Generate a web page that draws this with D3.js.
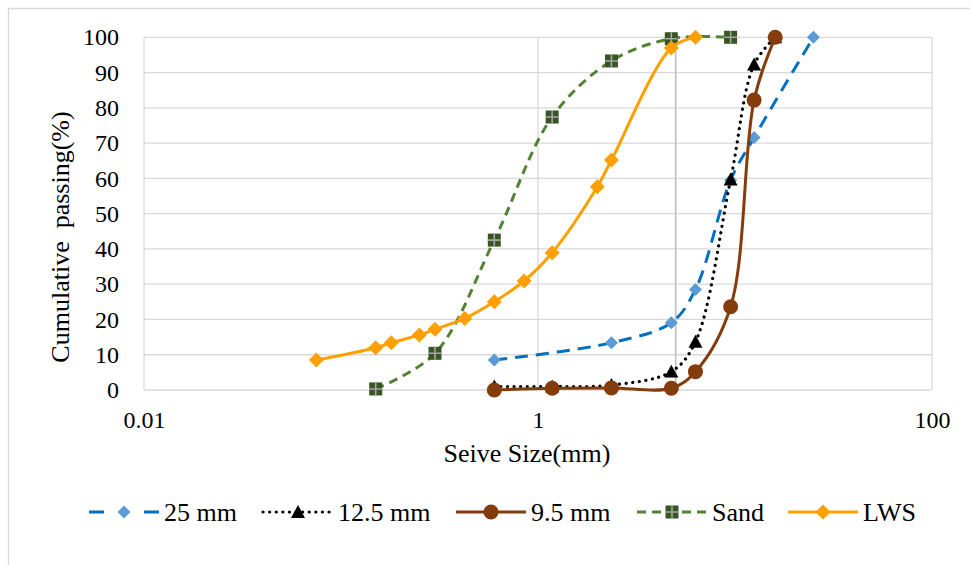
<!DOCTYPE html>
<html>
<head>
<meta charset="utf-8">
<script src="https://cdn.jsdelivr.net/npm/d3@7/dist/d3.min.js"></script>
</head>
<body style="margin:0">
<svg id="graph" width="970" height="565" font-family="Times New Roman"></svg>
<script>
// Sieve analysis: cumulative passing (%) against sieve size (mm)
const seriesNames = ["25 mm", "12.5 mm", "9.5 mm", "Sand", "LWS"];

const sizes25 = [0.6, 2.36, 4.75, 6.3, 9.5, 12.5, 25];
const pass25  = [8.5, 13.4, 19.1, 28.5, 59.5, 71.6, 100];

const sizes12_5 = [0.6, 1.18, 2.36, 4.75, 6.3, 9.5, 12.5, 16];
const pass12_5  = [1.0, 1.0, 1.4, 5.2, 13.7, 59.7, 92.3, 100];

const sizes9_5 = [0.6, 1.18, 2.36, 4.75, 6.3, 9.5, 12.5, 16];
const pass9_5  = [0.0, 0.5, 0.6, 0.5, 5.2, 23.6, 82.2, 100];

const sizesSand = [0.15, 0.3, 0.6, 1.18, 2.36, 4.75, 9.5];
const passSand  = [0.3, 10.4, 42.5, 77.4, 93.3, 99.6, 100];

const sizesLWS = [0.075, 0.15, 0.18, 0.25, 0.3, 0.425, 0.6, 0.85, 1.18, 2.0, 2.36, 4.75, 6.3];
const passLWS  = [8.5, 12.0, 13.4, 15.6, 17.2, 20.3, 25.0, 30.9, 38.9, 57.6, 65.2, 97.0, 100];

const xTicks = [0.01, 1, 100];
const yTicks = [0, 10, 20, 30, 40, 50, 60, 70, 80, 90, 100];
const referenceSize = [5];   // vertical marker line (mm)

const xTitle = "Seive Size(mm)";
const yTitle = "Cumulative  passing(%)";

const FONT = "'Times New Roman'";

// ---- layout ----
const svg = d3.select("#graph");
const plot = { left: 144, right: 932, top: 37.3, bottom: 390 };

const x = d3.scaleLog().domain([0.01, 100]).range([plot.left, plot.right]);
const y = d3.scaleLinear().domain([0, 100]).range([plot.bottom, plot.top]);

// outer frame (top and left edges visible)
svg.append("path")
  .attr("d", "M8.5,566 V8.5 H971")
  .attr("fill", "none").attr("stroke", "#d9d9d9").attr("stroke-width", 1.3);

// gridlines
const grid = svg.append("g");
grid.selectAll("line.h").data(yTicks).join("line")
  .attr("x1", plot.left).attr("x2", plot.right)
  .attr("y1", d => y(d)).attr("y2", d => y(d))
  .attr("stroke", "#d9d9d9").attr("stroke-width", 1.3);
grid.selectAll("line.v").data(xTicks).join("line")
  .attr("y1", plot.top).attr("y2", plot.bottom)
  .attr("x1", d => x(d)).attr("x2", d => x(d))
  .attr("stroke", "#d9d9d9").attr("stroke-width", 1.3);
grid.selectAll("line.ref").data(referenceSize).join("line")
  .attr("y1", plot.top).attr("y2", plot.bottom)
  .attr("x1", d => x(d)).attr("x2", d => x(d))
  .attr("stroke", "#bfbfbf").attr("stroke-width", 1.6);

// axes (labels only)
const yAxis = svg.append("g")
  .attr("transform", `translate(${plot.left},0)`)
  .call(d3.axisLeft(y).tickValues(yTicks).tickSize(0).tickPadding(25).tickFormat(d3.format("d")));
const xAxis = svg.append("g")
  .attr("transform", `translate(0,${plot.bottom})`)
  .call(d3.axisBottom(x).tickValues(xTicks).tickSize(0).tickPadding(21).tickFormat(d => String(d)));
[xAxis, yAxis].forEach(a => {
  a.attr("font-family", null).attr("font-size", null);
  a.select(".domain").remove();
  a.selectAll("text").attr("fill", "#000").style("font-family", FONT).style("font-size", "24px");
});

// axis titles
svg.append("text")
  .style("font-family", FONT).style("font-size", "26px")
  .attr("x", 527).attr("y", 462)
  .attr("text-anchor", "middle")
  .text(xTitle);
svg.append("text")
  .style("font-family", FONT).style("font-size", "26px")
  .attr("transform", "translate(69,237) rotate(-90)")
  .attr("text-anchor", "middle")
  .style("white-space", "pre")
  .text(yTitle);

// ---- series ----
const series = [
  { name: seriesNames[0], sizes: sizes25,   pass: pass25,   stroke: "#0070c0", dash: "13,8", cap: "butt",
    marker: "diamond", mfill: "#5b9bd5", msize: 13 },
  { name: seriesNames[1], sizes: sizes12_5, pass: pass12_5, stroke: "#000000", dash: "0.1,6.5", cap: "round",
    marker: "triangle", mfill: "#000000", msize: 14 },
  { name: seriesNames[2], sizes: sizes9_5,  pass: pass9_5,  stroke: "#843c0c", dash: null, cap: "butt",
    marker: "circle", mfill: "#843c0c", msize: 15 },
  { name: seriesNames[3], sizes: sizesSand, pass: passSand, stroke: "#548235", dash: "9,6", cap: "butt",
    marker: "square", mfill: "#375623", msize: 13 },
  { name: seriesNames[4], sizes: sizesLWS,  pass: passLWS,  stroke: "#ffa000", dash: null, cap: "butt",
    marker: "diamond", mfill: "#ffa000", msize: 15 }
];

const line = d3.line().curve(d3.curveCatmullRom.alpha(0.5));

function drawMarker(g, s, cx, cy) {
  const h = s.msize / 2;
  if (s.marker === "diamond") {
    g.append("path").attr("d", `M${cx},${cy - h} L${cx + h},${cy} L${cx},${cy + h} L${cx - h},${cy} Z`)
      .attr("fill", s.mfill);
  } else if (s.marker === "triangle") {
    g.append("path").attr("d", `M${cx},${cy - h} L${cx + h},${cy + h * 0.85} L${cx - h},${cy + h * 0.85} Z`)
      .attr("fill", s.mfill);
  } else if (s.marker === "circle") {
    g.append("circle").attr("cx", cx).attr("cy", cy).attr("r", h).attr("fill", s.mfill);
  } else if (s.marker === "square") {
    g.append("rect").attr("x", cx - h).attr("y", cy - h).attr("width", 2 * h).attr("height", 2 * h)
      .attr("fill", s.mfill);
    g.append("path").attr("d", `M${cx},${cy - h} V${cy + h} M${cx - h},${cy} H${cx + h}`)
      .attr("stroke", "#a5a5a5").attr("stroke-width", 1.6);
  }
}

const seriesLayer = svg.append("g");
series.forEach(s => {
  const pts = s.sizes.map((d, i) => [x(d), y(s.pass[i])]);
  const g = seriesLayer.append("g");
  g.append("path")
    .attr("d", line(pts))
    .attr("fill", "none")
    .attr("stroke", s.stroke)
    .attr("stroke-width", s.marker === "triangle" ? 3.2 : 3)
    .attr("stroke-linecap", s.cap)
    .attr("stroke-dasharray", s.dash);
  pts.forEach(p => drawMarker(g, s, p[0], p[1]));
});

// ---- legend ----
const legendY = 512;
const legendStarts = [89, 263, 456, 637, 788];
const legend = svg.append("g");
series.forEach((s, i) => {
  const x0 = legendStarts[i];
  const g = legend.append("g");
  g.append("line")
    .attr("x1", x0).attr("x2", x0 + 70).attr("y1", legendY).attr("y2", legendY)
    .attr("stroke", s.stroke).attr("stroke-width", s.marker === "triangle" ? 3.2 : 3)
    .attr("stroke-linecap", s.cap)
    .attr("stroke-dasharray", s.dash === "13,8" ? "15,40" : s.dash);
  drawMarker(g, s, x0 + 35, legendY);
  g.append("text")
    .style("font-family", FONT).style("font-size", "26px")
    .attr("x", x0 + 75).attr("y", legendY + 9)
    .text(s.name);
});
</script>
</body>
</html>
